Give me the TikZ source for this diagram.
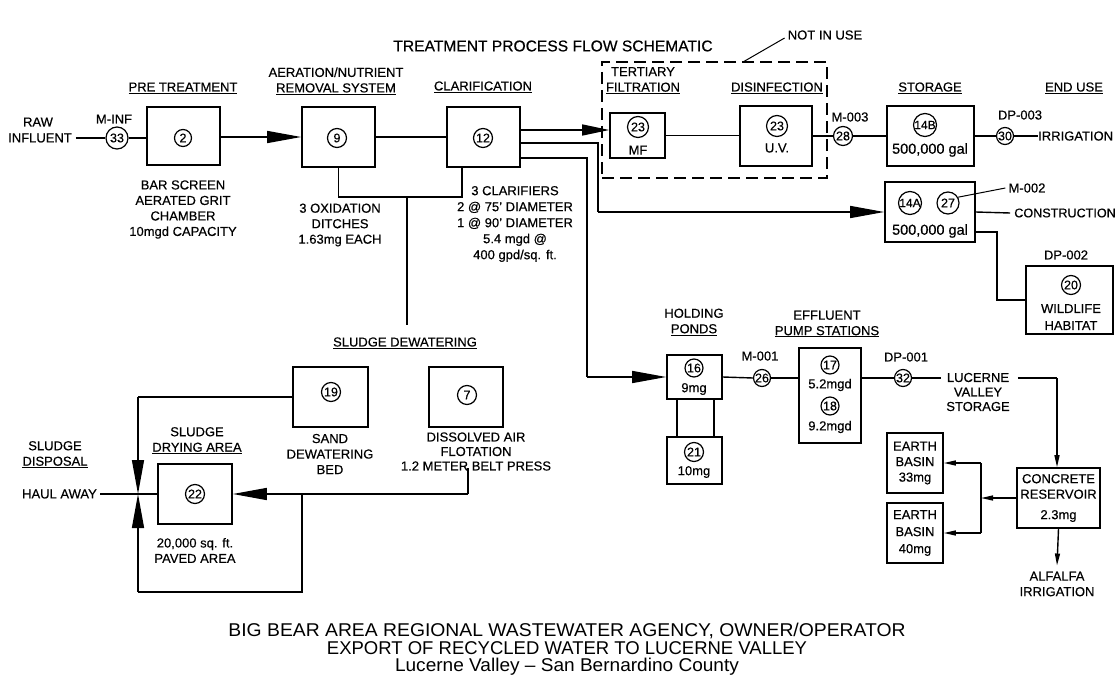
\documentclass[tikz,border=0pt]{standalone}
\usepackage{fontspec}
\setmainfont{Liberation Sans}[FakeBold=0.45]
\newfontfamily\footf{Liberation Sans}
\usetikzlibrary{arrows.meta,calc}
\begin{document}
\begin{tikzpicture}[x=1pt,y=-1pt,
 lab/.style={inner sep=0pt, align=center, font=\fontsize{13}{15.5}\selectfont},
 box/.style={draw, line width=1.6pt, inner sep=0pt},
 num/.style={draw, circle, line width=1.2pt, inner sep=0pt, minimum size=19pt, font=\fontsize{12.5}{13}\selectfont},
 numw/.style={num, minimum size=23pt, font=\fontsize{12}{12}\selectfont},
 ln/.style={line width=1.4pt},
 thinln/.style={line width=1pt},
 bigarr/.style={ln, -{Triangle[length=34pt,width=12pt]}},
 midarr/.style={ln, -{Triangle[length=27pt,width=11pt]}},
 smarr/.style={ln, -{Triangle[length=12pt,width=5pt]}},
]
\useasboundingbox (0,0) rectangle (1118,682);

% title
\node[lab, font=\fontsize{15.6}{17}\selectfont] (title) at (553,46) {TREATMENT PROCESS FLOW SCHEMATIC};

% ---------- row 1 ----------
\node[lab] (raw1) at (38,122) {RAW};
\node[lab] (raw2) at (40,138) {INFLUENT};
\node[num, minimum size=22pt] (c33) at (117,138) {33};
\node[lab] (minf) at (114,119) {M-INF};

\node[box, minimum width=73pt, minimum height=58pt] (b2) at (183.5,136) {};
\node[num, minimum size=17pt] (n2) at (183,138) {2};
\node[lab] (preT) at (183,88) {\underline{PRE TREATMENT}};
\node[lab] (barT) at (183,209.5) {BAR SCREEN\\AERATED GRIT\\CHAMBER\\10mgd CAPACITY};

\node[box, minimum width=73pt, minimum height=60pt] (b9) at (338.5,137) {};
\node[num] (n9) at (337,138) {9};
\node[lab] (aerT) at (336,81) {AERATION/NUTRIENT\\\underline{REMOVAL SYSTEM}};
\node[lab] (oxT) at (340,225) {3 OXIDATION\\DITCHES\\1.63mg EACH};

\node[box, minimum width=73pt, minimum height=60pt] (b12) at (483.5,137) {};
\node[num] (n12) at (483,138) {12};
\node[lab] (clT) at (483,87) {\underline{CLARIFICATION}};
\node[lab, font=\fontsize{13}{16}\selectfont] (clN) at (515,224) {3 CLARIFIERS\\2 @ 75' DIAMETER\\1 @ 90' DIAMETER\\5.4 mgd @\\400 gpd/sq. ft.};

% not in use group
\node[draw, line width=1.4pt, dash pattern=on 12pt off 6pt, minimum width=225pt, minimum height=116pt, inner sep=0pt] (niu) at (714.5,120) {};
\node[lab] (niuT) at (825,35) {NOT IN USE};
\coordinate (niuL) at (743,62);
\draw[thinln] (niuL) -- ($(niuT.west)+(-3,3)$);
\node[lab] (terT) at (643,80.5) {TERTIARY\\\underline{FILTRATION}};
\node[lab] (disT) at (777,88) {\underline{DISINFECTION}};
\node[box, minimum width=55pt, minimum height=45pt] (bMF) at (637.5,135.5) {};
\node[num, minimum size=21pt] (n23a) at (638,127) {23};
\node[lab] (mf) at (638,150) {MF};
\node[box, minimum width=72pt, minimum height=60pt] (bUV) at (776,136) {};
\node[num, minimum size=21pt] (n23b) at (777,126) {23};
\node[lab] (uv) at (777,148) {U.V.};

% storage
\node[num] (c28) at (843,136) {28};
\node[lab] (m003) at (850,117) {M-003};
\node[lab] (stT) at (930,88) {\underline{STORAGE}};
\node[lab] (euT) at (1074,88) {\underline{END USE}};
\node[box, minimum width=87pt, minimum height=60pt] (b14B) at (930.5,136) {};
\node[numw] (n14B) at (925,125) {14B};
\node[lab, font=\fontsize{14.5}{16}\selectfont] (g14B) at (930,150) {500,000 gal};
\node[num, minimum size=17pt] (c30) at (1005,136) {30};
\node[lab] (dp3) at (1020,115) {DP-003};
\node[lab, anchor=west] (irr) at (1038,136) {IRRIGATION};

\node[box, minimum width=90pt, minimum height=60pt] (b14A) at (930,212) {};
\node[numw] (n14A) at (910,203) {14A};
\node[num, minimum size=22pt] (n27) at (948,203) {27};
\node[lab, font=\fontsize{14.5}{16}\selectfont] (g14A) at (930,231) {500,000 gal};
\node[lab] (m002) at (1027,188) {M-002};
\node[lab, anchor=east, font=\fontsize{12.6}{15}\selectfont] (cons) at (1116,213) {CONSTRUCTION};
\node[box, minimum width=87pt, minimum height=68pt] (b20) at (1069.5,300) {};
\node[num] (n20) at (1071,285) {20};
\node[lab, font=\fontsize{13}{17}\selectfont] (wild) at (1071,317) {WILDLIFE\\HABITAT};
\node[lab] (dp2) at (1066,255) {DP-002};

% ---------- holding / pumps ----------
\node[lab] (holT) at (694,322) {HOLDING\\\underline{PONDS}};
\node[box, minimum width=55pt, minimum height=44pt] (b16) at (694.5,377) {};
\node[num, minimum size=18pt] (n16) at (694,368) {16};
\node[lab] (g16) at (694,389) {9mg};
\node[box, minimum width=55pt, minimum height=47pt] (b21) at (694.5,460.5) {};
\node[num] (n21) at (694,452) {21};
\node[lab] (g21) at (694,472) {10mg};
\node[num, minimum size=17pt] (c26) at (762,378) {26};
\node[lab] (m001) at (760,356) {M-001};
\node[lab] (effT) at (827,324) {EFFLUENT\\\underline{PUMP STATIONS}};
\node[box, minimum width=62pt, minimum height=95pt] (b17) at (830,395.5) {};
\node[num, minimum size=18pt] (n17) at (830,365) {17};
\node[lab] (g17) at (830,385) {5.2mgd};
\node[num, minimum size=18pt] (n18) at (830,406) {18};
\node[lab] (g18) at (830,427) {9.2mgd};
\node[num, minimum size=17pt] (c32) at (903,378) {32};
\node[lab] (dp1) at (906,357) {DP-001};
\node[lab, font=\fontsize{13}{14.5}\selectfont] (luc) at (978,392) {LUCERNE\\VALLEY\\STORAGE};

\node[box, minimum width=83pt, minimum height=60pt] (bCon) at (1058.5,498) {};
\node[lab] (conT) at (1058.5,498) {CONCRETE\\RESERVOIR\\[5pt]2.3mg};
\node[lab] (alf) at (1057,584) {ALFALFA\\IRRIGATION};
\node[box, minimum width=56pt, minimum height=60pt, lab, font=\fontsize{13}{15.5}\selectfont] (bE1) at (915,463) {EARTH\\BASIN\\33mg};
\node[box, minimum width=56pt, minimum height=60pt, lab, font=\fontsize{13}{17}\selectfont] (bE2) at (915,533) {EARTH\\BASIN\\40mg};

% ---------- sludge ----------
\node[lab] (sdT) at (405,343) {\underline{SLUDGE DEWATERING}};
\node[box, minimum width=75pt, minimum height=60pt] (b19) at (330.5,397) {};
\node[num] (n19) at (331,392) {19};
\node[lab] (sandT) at (330,454) {SAND\\DEWATERING\\BED};
\node[box, minimum width=74pt, minimum height=60pt] (b7) at (466,397) {};
\node[num] (n7) at (467,395) {7};
\node[lab, font=\fontsize{13}{14.5}\selectfont] (dafT) at (476,451.5) {DISSOLVED AIR\\FLOTATION\\1.2 METER BELT PRESS};
\node[box, minimum width=74pt, minimum height=60pt] (b22) at (195,494) {};
\node[num] (n22) at (195,494) {22};
\node[lab] (sdaT) at (197,440.5) {SLUDGE\\\underline{DRYING AREA}};
\node[lab] (pavT) at (195,550.5) {20,000 sq. ft.\\PAVED AREA};
\node[lab] (sdisT) at (55,454.5) {SLUDGE\\\underline{DISPOSAL}};
\node[lab, anchor=east] (haul) at (97,494) {HAUL AWAY};

% ---------- connectors ----------
\draw[ln] ($(raw2.east)+(4,0)$) -- (c33.west);
\draw[ln] (c33.east) -- (c33.east -| b2.west);
\draw[bigarr] (b2.east |- b9.west) -- (b9.west);
\draw[ln] (b9.east) -- (b12.west);
\coordinate (j1) at (338.5,197);
\coordinate (j2) at (462,197);
\coordinate (sv) at (407,197);
\coordinate (se) at (407,325);
\draw[ln] (b9.south) -- (j1) -- (j2) -- (j2 |- b12.south);
\draw[ln] (sv) -- (se);

% clarifier outputs
\coordinate (o1) at (520,130);
\draw[midarr] (o1) -- (o1 -| bMF.west);
\coordinate (o2a) at (520,143);
\coordinate (o2b) at (598,143);
\coordinate (o2c) at (598,212);
\draw[ln] (o2a) -- (o2b) -- (o2c);
\draw[bigarr] (o2c) -- (b14A.west);
\coordinate (o3a) at (520,158);
\coordinate (o3b) at (587,158);
\coordinate (o3c) at (587,377);
\draw[ln] (o3a) -- (o3b) -- (o3c);
\draw[bigarr] (o3c) -- (b16.west);

\draw[ln] (bMF.east) -- (bMF.east -| bUV.west);
\draw[ln] (bUV.east) -- (c28.west);
\draw[ln] (c28.east) -- (b14B.west);
\draw[ln] (b14B.east) -- (c30.west);
\draw[ln] (c30.east) -- (irr.west);
\draw[thinln] (n27.30) -- ($(m002.west)+(-3,0)$);
\draw[ln] (b14A.east) -- ($(cons.west)+(-4,0)$);
\coordinate (w1) at (997,232);
\draw[ln] (b14A.east |- w1) -- (w1) |- (b20.west);

\draw[ln] ($(b16.south)+(-17.5,0)$) -- ($(b21.north)+(-17.5,0)$);
\draw[ln] ($(b16.south)+(19.5,0)$) -- ($(b21.north)+(19.5,0)$);
\draw[ln] (b16.east) -- (c26.west);
\draw[ln] (c26.east) -- (c26.east -| b17.west);
\draw[ln] (c32 -| b17.east) -- (c32.west);
\draw[ln] (c32.east) -- ($(c32.east -| luc.west)+(-5,0)$);
\coordinate (lv) at (1057,378);
\draw[ln] ($(luc.east |- lv)+(8,0)$) -- (lv);
\draw[smarr] (lv) -- (lv |- bCon.north);
\draw[smarr] (bCon.south) -- ($(alf.north)+(0,-6)$);
\coordinate (jc) at (981,498);
\coordinate (jt) at (981,463);
\coordinate (jb) at (981,533);
\draw[smarr] (bCon.west) -- (jc);
\draw[ln] (jt) -- (jb);
\draw[smarr] (jt) -- (bE1.east);
\draw[smarr] (jb) -- (bE2.east);

% sludge
\coordinate (s1) at (138,397);
\coordinate (sj) at (138,494);
\draw[ln] (b19.west) -- (s1);
\draw[bigarr] (s1) -- (sj);
\coordinate (d1) at (468,468);
\coordinate (d2) at (468,494);
\coordinate (d3) at (302,494);
\coordinate (d4) at (302,592);
\coordinate (d5) at (138,592);
\draw[ln] (d1) -- (d2);
\draw[bigarr] (d2) -- (b22.east);
\draw[ln] (d3) -- (d4) -- (d5);
\draw[bigarr] (d5) -- (sj);
\draw[ln] ($(haul.east)+(3,0)$) -- (b22.west);

% footer
\node[inner sep=0pt, align=center, font=\footf\fontsize{18.5}{17.5}\selectfont] (foot) at (567,649.5) {\scalebox{1.045}[1]{BIG BEAR AREA REGIONAL WASTEWATER AGENCY, OWNER/OPERATOR}\\EXPORT OF RECYCLED WATER TO LUCERNE VALLEY\\\scalebox{1.03}[1]{Lucerne Valley – San Bernardino County}};
\end{tikzpicture}
\end{document}
